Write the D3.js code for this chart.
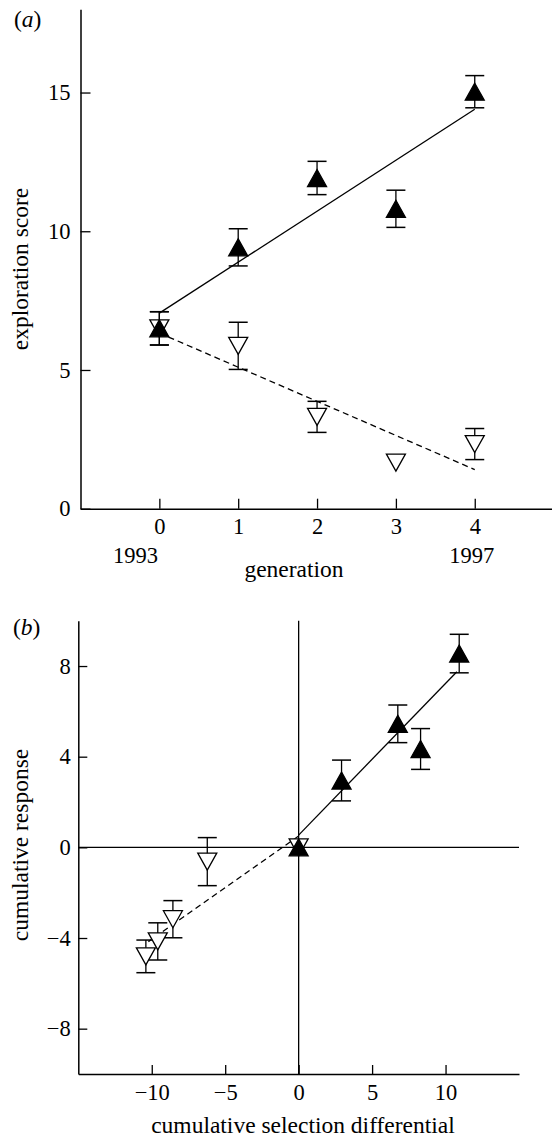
<!DOCTYPE html>
<html>
<head>
<meta charset="utf-8">
<title>exploration score selection</title>
<script src="https://d3js.org/d3.v7.min.js"></script>
<style>
  body { margin: 0; background: #fff; }
  text { font-family: "Liberation Serif", "Times New Roman", serif; fill: #000; }
</style>
</head>
<body>
<script>
// panel (a): exploration score by generation
var generations = [0, 1, 2, 3, 4];
var genTicks = [0, 1, 2, 3, 4];
var scoreTicks = [0, 5, 10, 15];
var selScore = [6.5, 9.42, 11.92, 10.81, 15.03];
var selErr = [0.6, 0.67, 0.6, 0.67, 0.58];
var unselScore = [6.5, 5.87, 3.31, 1.66, 2.33];
var unselErr = [0.6, 0.85, 0.56, 0, 0.56];
var fitGenA = [0, 4];
var fitSelA = [7.05, 14.4];
var fitUnselA = [6.33, 1.41];

// panel (b): cumulative response vs cumulative selection differential
var diffTicks = [-10, -5, 0, 5, 10];
var respTicks = [-8, -4, 0, 4, 8];
var selDiff = [0, 2.92, 6.75, 8.3, 10.93];
var selResp = [0, 2.95, 5.45, 4.34, 8.55];
var selRespErr = [0, 0.9, 0.83, 0.9, 0.85];
var unselDiff = [0, -6.22, -8.56, -9.59, -10.4];
var unselResp = [0, -0.63, -3.17, -4.15, -4.81];
var unselRespErr = [0, 1.06, 0.82, 0.82, 0.72];
var fitSelDiffB = [0, 10.77];
var fitSelRespB = [0.54, 7.75];
var fitUnselDiffB = [0, -10.23];
var fitUnselRespB = [0.5, -4.16];

var W = 552, H = 1138;
var svg = d3.select("body").append("svg")
  .attr("width", W).attr("height", H);

var tickFont = 22.5, titleFont = 23.5;
var triW = 19, triH = 17, capW = 19;

// integer labels, with a real minus sign
var fmt = function(d) { return d < 0 ? "\u2212" + Math.abs(d) : String(d); };

function triangle(up) {
  var s = up ? 1 : -1;
  return "M0," + (-s * triH / 2) + "L" + (triW / 2) + "," + (s * triH / 2) +
    "L" + (-triW / 2) + "," + (s * triH / 2) + "Z";
}

function styleAxis(g, size) {
  g.select(".domain").attr("stroke", "#000").attr("stroke-width", 1.5);
  g.selectAll(".tick line").attr("stroke", "#000").attr("stroke-width", 1.3);
  g.selectAll(".tick text").style("font-size", size + "px")
    .style("font-family", "'Liberation Serif', 'Times New Roman', serif");
}

function drawSeries(g, xs, ys, errs, x, y, up) {
  var pts = xs.map(function(d, i) { return {x: d, y: ys[i], e: errs[i]}; });
  var withErr = pts.filter(function(p) { return p.e > 0; });
  var eb = g.append("g").selectAll("g").data(withErr).enter().append("g");
  eb.append("line")
    .attr("x1", function(p) { return x(p.x); }).attr("x2", function(p) { return x(p.x); })
    .attr("y1", function(p) { return y(p.y - p.e); }).attr("y2", function(p) { return y(p.y + p.e); })
    .attr("stroke", "#000").attr("stroke-width", 1.3);
  [1, -1].forEach(function(k) {
    eb.append("line")
      .attr("x1", function(p) { return x(p.x) - capW / 2; })
      .attr("x2", function(p) { return x(p.x) + capW / 2; })
      .attr("y1", function(p) { return y(p.y + k * p.e); })
      .attr("y2", function(p) { return y(p.y + k * p.e); })
      .attr("stroke", "#000").attr("stroke-width", 1.5);
  });
  g.append("g").selectAll("path").data(pts).enter().append("path")
    .attr("d", triangle(up))
    .attr("transform", function(p) { return "translate(" + x(p.x) + "," + y(p.y) + ")"; })
    .attr("fill", up ? "#000" : "#fff")
    .attr("stroke", "#000").attr("stroke-width", 1.3);
}

function fitLine(g, xs, ys, x, y, dashed) {
  g.append("path")
    .datum(xs.map(function(d, i) { return [d, ys[i]]; }))
    .attr("d", d3.line().x(function(d) { return x(d[0]); }).y(function(d) { return y(d[1]); }))
    .attr("fill", "none").attr("stroke", "#000").attr("stroke-width", 1.3)
    .attr("stroke-dasharray", dashed ? "6,4" : null);
}

// ---------- panel (a)
var xA = d3.scaleLinear().domain([-1, 5]).range([80.5, 553.6]);
var yA = d3.scaleLinear().domain([0, 18]).range([508.7, 9.3]);
var gA = svg.append("g");

gA.append("g").attr("transform", "translate(0," + yA(0) + ")")
  .call(d3.axisBottom(xA).tickValues(genTicks).tickFormat(fmt)
    .tickSize(-10).tickSizeOuter(0).tickPadding(9))
  .call(styleAxis, tickFont);
gA.append("g").attr("transform", "translate(" + xA(-1) + ",0)")
  .call(d3.axisLeft(yA).tickValues(scoreTicks).tickFormat(fmt)
    .tickSize(-10).tickSizeOuter(0).tickPadding(10))
  .call(styleAxis, tickFont);

fitLine(gA, fitGenA, fitSelA, xA, yA, false);
fitLine(gA, fitGenA, fitUnselA, xA, yA, true);
drawSeries(gA, generations, unselScore, unselErr, xA, yA, false);
drawSeries(gA, generations, selScore, selErr, xA, yA, true);

gA.append("text").attr("x", 158).attr("y", 563).attr("text-anchor", "end")
  .style("font-size", tickFont + "px").text("1993");
gA.append("text").attr("x", xA(4) - 3).attr("y", 563).attr("text-anchor", "middle")
  .style("font-size", tickFont + "px").text("1997");
gA.append("text").attr("x", 294).attr("y", 577).attr("text-anchor", "middle")
  .style("font-size", titleFont + "px").text("generation");
gA.append("text").attr("transform", "translate(28,269) rotate(-90)")
  .attr("text-anchor", "middle").style("font-size", titleFont + "px").text("exploration score");
var la = gA.append("text").attr("x", 14).attr("y", 27).style("font-size", titleFont + "px");
la.append("tspan").text("(");
la.append("tspan").style("font-style", "italic").text("a");
la.append("tspan").text(")");

// ---------- panel (b)
var xB = d3.scaleLinear().domain([-15, 15]).range([78.3, 519]);
var yB = d3.scaleLinear().domain([-10, 10]).range([1074, 620.7]);
var gB = svg.append("g");

gB.append("g").attr("transform", "translate(0," + yB(-10) + ")")
  .call(d3.axisBottom(xB).tickValues(diffTicks).tickFormat(fmt)
    .tickSize(-9).tickSizeOuter(0).tickPadding(10.5))
  .call(styleAxis, tickFont);
gB.append("g").attr("transform", "translate(" + xB(-15) + ",0)")
  .call(d3.axisLeft(yB).tickValues(respTicks).tickFormat(fmt)
    .tickSize(-9).tickSizeOuter(0).tickPadding(7.5))
  .call(styleAxis, tickFont);

// zero reference lines
gB.append("line").attr("x1", xB(-15)).attr("x2", xB(15)).attr("y1", yB(0)).attr("y2", yB(0))
  .attr("stroke", "#000").attr("stroke-width", 1.3);
gB.append("line").attr("x1", xB(0)).attr("x2", xB(0)).attr("y1", yB(10)).attr("y2", yB(-10))
  .attr("stroke", "#000").attr("stroke-width", 1.3);

fitLine(gB, fitSelDiffB, fitSelRespB, xB, yB, false);
fitLine(gB, fitUnselDiffB, fitUnselRespB, xB, yB, true);
drawSeries(gB, unselDiff, unselResp, unselRespErr, xB, yB, false);
drawSeries(gB, selDiff, selResp, selRespErr, xB, yB, true);

gB.append("text").attr("x", 303).attr("y", 1133).attr("text-anchor", "middle")
  .style("font-size", titleFont + "px").text("cumulative selection differential");
gB.append("text").attr("transform", "translate(28,845) rotate(-90)")
  .attr("text-anchor", "middle").style("font-size", titleFont + "px").text("cumulative response");
var lb = gB.append("text").attr("x", 13).attr("y", 635).style("font-size", titleFont + "px");
lb.append("tspan").text("(");
lb.append("tspan").style("font-style", "italic").text("b");
lb.append("tspan").text(")");
</script>
</body>
</html>
